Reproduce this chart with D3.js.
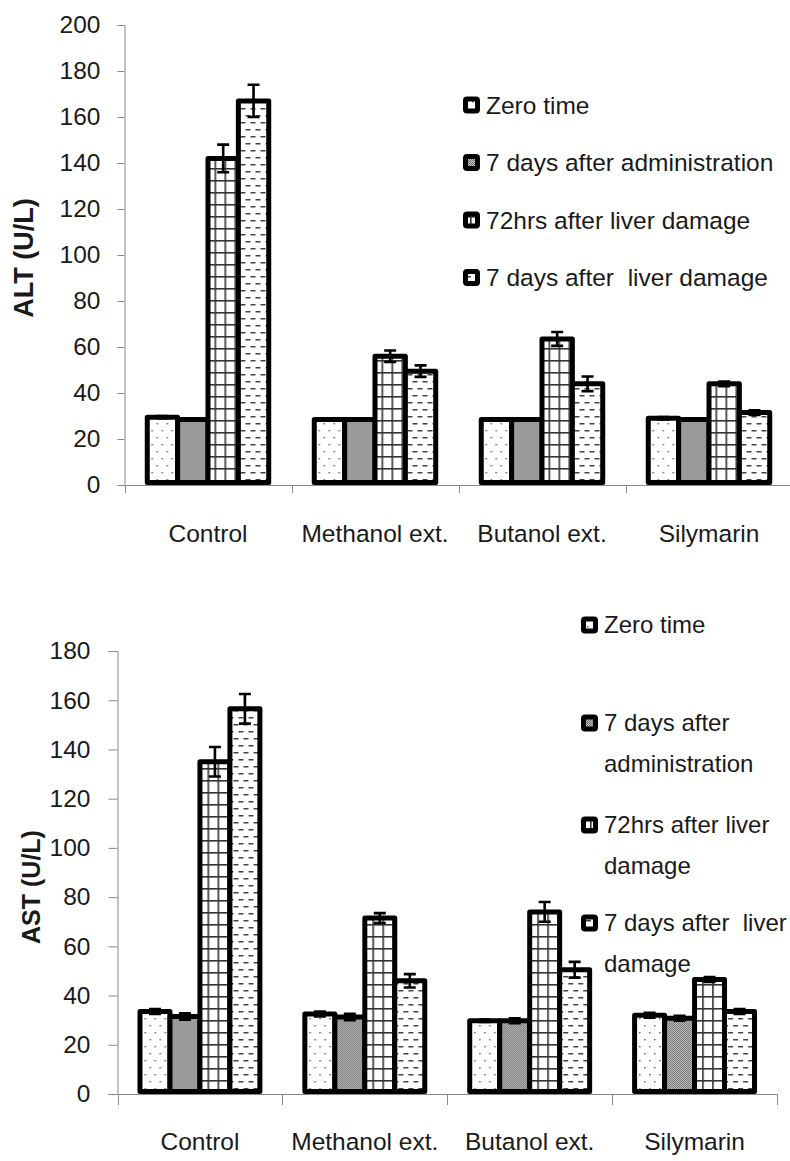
<!DOCTYPE html>
<html>
<head>
<meta charset="utf-8">
<script src="https://cdn.jsdelivr.net/npm/d3@7"></script>
<style>
  body { margin: 0; background: #fff; }
  svg text { font-family: "Liberation Sans", Arial, sans-serif; fill: #1a1a1a; }
</style>
</head>
<body>
<svg id="chart" width="790" height="1161"></svg>
<script>
(function(){

  var categories = ["Control", "Methanol ext.", "Butanol ext.", "Silymarin"];
  var seriesNames = ["Zero time", "7 days after administration", "72hrs after liver damage", "7 days after  liver damage"];
  var astLegendLines = [["Zero time"], ["7 days after", "administration"], ["72hrs after liver", "damage"], ["7 days after  liver", "damage"]];

  var altTicks = [0, 20, 40, 60, 80, 100, 120, 140, 160, 180, 200];
  var astTicks = [0, 20, 40, 60, 80, 100, 120, 140, 160, 180];

  // ALT (U/L), one array per series, in category order
  var altZero = [29.5, 28.5, 28.5, 29];
  var altAdmin = [28.5, 28.5, 28.5, 28.5];
  var altDamage72 = [142, 56, 63.5, 44];
  var altDamage7d = [167, 49.5, 44, 31.5];
  var altErrZero = [0.5, 0.3, 0.3, 0.5];
  var altErrAdmin = [0.5, 0.3, 0.3, 0.5];
  var altErr72 = [6, 2.5, 3, 1];
  var altErr7d = [7, 2.5, 3.2, 1];

  // AST (U/L)
  var astZero = [33.5, 32.5, 29.8, 32];
  var astAdmin = [31.5, 31.3, 29.8, 30.8];
  var astDamage72 = [135, 71.5, 74, 46.5];
  var astDamage7d = [156.5, 46, 50.5, 33.5];
  var astErrZero = [1, 1, 0.5, 1];
  var astErrAdmin = [1.3, 1.3, 1, 1];
  var astErr72 = [6, 2, 4, 1];
  var astErr7d = [6, 2.7, 3.2, 1];

  var svg = d3.select("#chart");
  var defs = svg.append("defs");

  // fill patterns: dots, gray dither, grid, dashes
  var p0 = defs.append("pattern").attr("id", "pat0").attr("patternUnits", "userSpaceOnUse")
    .attr("width", 10).attr("height", 14);
  p0.append("rect").attr("width", 10).attr("height", 14).attr("fill", "#fff");
  p0.append("rect").attr("x", 2).attr("y", 3).attr("width", 1.4).attr("height", 1.4).attr("fill", "#555");
  p0.append("rect").attr("x", 7).attr("y", 10).attr("width", 1.4).attr("height", 1.4).attr("fill", "#555");

  var p1 = defs.append("pattern").attr("id", "pat1").attr("patternUnits", "userSpaceOnUse")
    .attr("width", 2).attr("height", 2);
  p1.append("rect").attr("width", 2).attr("height", 2).attr("fill", "#c4c4c4");
  p1.append("rect").attr("width", 1).attr("height", 1).attr("fill", "#707070");
  p1.append("rect").attr("x", 1).attr("y", 1).attr("width", 1).attr("height", 1).attr("fill", "#707070");

  var p2 = defs.append("pattern").attr("id", "pat2").attr("patternUnits", "userSpaceOnUse")
    .attr("width", 10).attr("height", 12);
  p2.append("rect").attr("width", 10).attr("height", 12).attr("fill", "#fff");
  p2.append("rect").attr("x", 0).attr("y", 0).attr("width", 1.6).attr("height", 12).attr("fill", "#333");
  p2.append("rect").attr("x", 0).attr("y", 0).attr("width", 10).attr("height", 1.6).attr("fill", "#333");

  var p3 = defs.append("pattern").attr("id", "pat3").attr("patternUnits", "userSpaceOnUse")
    .attr("width", 10).attr("height", 14);
  p3.append("rect").attr("width", 10).attr("height", 14).attr("fill", "#fff");
  p3.append("rect").attr("x", 1).attr("y", 3).attr("width", 5).attr("height", 1.5).attr("fill", "#444");
  p3.append("rect").attr("x", 6).attr("y", 10).attr("width", 4).attr("height", 1.5).attr("fill", "#444");
  p3.append("rect").attr("x", 0).attr("y", 10).attr("width", 1).attr("height", 1.5).attr("fill", "#444");

  var fills = ["url(#pat0)", "url(#pat1)", "url(#pat2)", "url(#pat3)"];

  function drawChart(cfg){
    var y = d3.scaleLinear().domain([0, cfg.yMax]).range([cfg.bottom, cfg.top]);
    var x0 = d3.scaleBand().domain(categories).range([cfg.left, cfg.right]);
    var x1 = d3.scaleBand().domain(seriesNames).range([0, x0.bandwidth()]).paddingOuter(0.75);
    var g = svg.append("g");

    // y axis
    var yAxis = g.append("g")
      .attr("transform", "translate(" + cfg.left + ",0)")
      .call(d3.axisLeft(y).tickValues(cfg.ticks).tickSize(cfg.yTickSize).tickPadding(cfg.yPad));
    yAxis.select(".domain").attr("stroke", "#8a8a8a");
    yAxis.selectAll(".tick line").attr("stroke", "#8a8a8a");
    yAxis.selectAll("text").style("font-size", "24.5px").attr("fill", "#1a1a1a");

    // x axis line + category boundary ticks
    g.append("line").attr("x1", cfg.left).attr("x2", cfg.axisEnd)
      .attr("y1", cfg.bottom + 0.5).attr("y2", cfg.bottom + 0.5).attr("stroke", "#8a8a8a");
    var bounds = categories.map(function(c){ return x0(c); }).concat([x0.range()[1]]);
    g.selectAll(".xtick").data(bounds).enter().append("line")
      .attr("x1", function(d){ return Math.round(d) + 0.5; })
      .attr("x2", function(d){ return Math.round(d) + 0.5; })
      .attr("y1", cfg.bottom).attr("y2", cfg.bottom + cfg.xTickSize)
      .attr("stroke", "#8a8a8a");
    g.selectAll(".xlabel").data(categories).enter().append("text")
      .attr("x", function(d){ return x0(d) + x0.bandwidth() / 2; })
      .attr("y", cfg.labelBaseline)
      .attr("text-anchor", "middle")
      .style("font-size", "24.5px")
      .text(function(d){ return d; });

    // bars
    var groups = g.selectAll(".grp").data(categories).enter().append("g")
      .attr("transform", function(d){ return "translate(" + x0(d) + ",0)"; });
    groups.each(function(cat, ci){
      var grp = d3.select(this);
      cfg.values.forEach(function(vals, si){
        var v = vals[ci];
        grp.append("rect")
          .attr("x", x1(seriesNames[si]))
          .attr("y", y(v))
          .attr("width", x1.bandwidth())
          .attr("height", y(0) - 2.5 - y(v))
          .attr("fill", fills[si])
          .attr("stroke", "#000")
          .attr("stroke-width", 5)
          .attr("stroke-linejoin", "round");
      });
    });
    // error bars on top
    groups.each(function(cat, ci){
      var grp = d3.select(this);
      cfg.values.forEach(function(vals, si){
        var v = vals[ci], e = cfg.errors[si][ci];
        var cx = x1(seriesNames[si]) + x1.bandwidth() / 2;
        var path = "M" + cx + "," + y(v + e) + "V" + y(v - e) +
          "M" + (cx - 6) + "," + y(v + e) + "H" + (cx + 6) +
          "M" + (cx - 6) + "," + y(v - e) + "H" + (cx + 6);
        grp.append("path").attr("d", path).attr("stroke", "#000")
          .attr("stroke-width", 2.6).attr("fill", "none");
      });
    });

    // y axis title
    g.append("text")
      .attr("transform", "translate(" + cfg.titleX + "," + cfg.titleY + ") rotate(-90)")
      .attr("text-anchor", "middle")
      .attr("dy", "0.35em")
      .style("font-size", cfg.titleSize + "px")
      .style("font-weight", "bold")
      .text(cfg.title);

    // legend
    var leg = g.append("g");
    cfg.legendLines.forEach(function(lines, i){
      var cy = cfg.legendRows[i];
      leg.append("rect")
        .attr("x", cfg.legendX + 2.5).attr("y", cy - 6)
        .attr("width", 12).attr("height", 12).attr("rx", 1.5)
        .attr("fill", fills[i]).attr("stroke", "#000").attr("stroke-width", 5)
        .attr("stroke-linejoin", "round");
      lines.forEach(function(line, li){
        leg.append("text")
          .attr("x", cfg.legendX + 23)
          .attr("y", cy + li * cfg.legendLineGap)
          .attr("dy", "0.35em")
          .style("font-size", cfg.legendSize + "px")
          .style("white-space", "pre")
          .text(line);
      });
    });
  }

  drawChart({
    top: 25, bottom: 485, left: 124.5, right: 792.5, axisEnd: 790,
    yMax: 200, ticks: altTicks, yTickSize: 7, yPad: 17, xTickSize: 8,
    labelBaseline: 542,
    values: [altZero, altAdmin, altDamage72, altDamage7d],
    errors: [altErrZero, altErrAdmin, altErr72, altErr7d],
    title: "ALT (U/L)", titleX: 24, titleY: 258, titleSize: 27,
    legendX: 463, legendRows: [105, 162.5, 220, 277.5], legendLineGap: 0, legendSize: 24.5,
    legendLines: seriesNames.map(function(s){ return [s]; })
  });

  drawChart({
    top: 651, bottom: 1094, left: 117.5, right: 777, axisEnd: 777,
    yMax: 180, ticks: astTicks, yTickSize: 9, yPad: 18, xTickSize: 11,
    labelBaseline: 1150,
    values: [astZero, astAdmin, astDamage72, astDamage7d],
    errors: [astErrZero, astErrAdmin, astErr72, astErr7d],
    title: "AST (U/L)", titleX: 31, titleY: 887, titleSize: 25,
    legendX: 581, legendRows: [625, 723, 825, 923], legendLineGap: 41, legendSize: 24,
    legendLines: astLegendLines
  });

})();
</script>
</body>
</html>
